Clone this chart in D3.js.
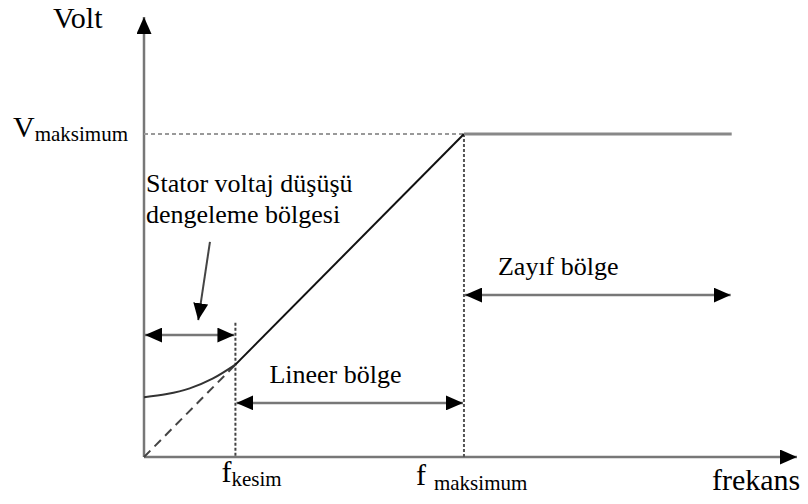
<!DOCTYPE html>
<html>
<head>
<meta charset="utf-8">
<script src="https://cdn.jsdelivr.net/npm/d3@7"></script>
<style>
  body { margin: 0; background: #fff; }
</style>
</head>
<body>
<div id="chart"></div>
<script>
// frequency / voltage values (arbitrary units)
let fKesim = 14
let fMax = 49
let fEnd = 90
let vMax = 73.4
let vKesim = 21

// low-frequency boost curve (stator voltage drop compensation)
let boostF = [0, 3.5, 7, 10.5, 14]
let boostV = [13.6, 14.3, 15.6, 17.8, 21]

// region arrows: [from f, to f, at V]
let regionArrows = [
  [0, fKesim, 27.7],
  [fKesim, fMax, 12.3],
  [fMax, fEnd, 36.8]
]
let regionLabels = ['', 'Lineer bölge', 'Zayıf bölge']

let serif = '"Liberation Serif", Tinos, "DejaVu Serif", serif'

let width = 808,
  height = 504

let svg = d3
  .select('#chart')
  .append('svg')
  .attr('width', width)
  .attr('height', height)
  .attr('font-family', serif)

let x = d3.scaleLinear().domain([0, 100]).range([144, 797])
let y = d3.scaleLinear().domain([0, 100]).range([457, 17])

let defs = svg.append('defs')
defs
  .append('marker')
  .attr('id', 'head')
  .attr('markerUnits', 'userSpaceOnUse')
  .attr('viewBox', '0 0 17 15')
  .attr('refX', 17)
  .attr('refY', 7.5)
  .attr('markerWidth', 17)
  .attr('markerHeight', 15)
  .attr('orient', 'auto-start-reverse')
  .append('path')
  .attr('d', 'M0,0 L17,7.5 L0,15 Z')
  .attr('fill', '#000')

// axes
svg
  .append('line')
  .attr('x1', x(0))
  .attr('y1', y(0))
  .attr('x2', x(0))
  .attr('y2', y(100))
  .attr('stroke', '#777')
  .attr('stroke-width', 2.5)
  .attr('marker-end', 'url(#head)')
svg
  .append('line')
  .attr('x1', x(0))
  .attr('y1', y(0))
  .attr('x2', x(100))
  .attr('y2', y(0))
  .attr('stroke', '#777')
  .attr('stroke-width', 2.5)
  .attr('marker-end', 'url(#head)')

// guide lines
svg
  .append('line')
  .attr('x1', x(0))
  .attr('y1', y(vMax))
  .attr('x2', x(fMax))
  .attr('y2', y(vMax))
  .attr('stroke', '#999')
  .attr('stroke-width', 2)
  .attr('stroke-dasharray', '4,3')
svg
  .append('line')
  .attr('x1', x(fMax))
  .attr('y1', y(vMax))
  .attr('x2', x(fMax))
  .attr('y2', y(0))
  .attr('stroke', '#555')
  .attr('stroke-width', 2)
  .attr('stroke-dasharray', '3,2')
svg
  .append('line')
  .attr('x1', x(fKesim))
  .attr('y1', y(30.5))
  .attr('x2', x(fKesim))
  .attr('y2', y(0))
  .attr('stroke', '#444')
  .attr('stroke-width', 2)
  .attr('stroke-dasharray', '3,2')

// dashed linear part below f kesim
svg
  .append('line')
  .attr('x1', x(0))
  .attr('y1', y(0))
  .attr('x2', x(fKesim))
  .attr('y2', y(vKesim))
  .attr('stroke', '#444')
  .attr('stroke-width', 2)
  .attr('stroke-dasharray', '9,6')

// boost curve
let boost = boostF.map(function(f, i) {
  return [f, boostV[i]]
})
svg
  .append('path')
  .datum(boost)
  .attr('fill', 'none')
  .attr('stroke', '#333')
  .attr('stroke-width', 2)
  .attr(
    'd',
    d3
      .line()
      .x(function(d) { return x(d[0]) })
      .y(function(d) { return y(d[1]) })
      .curve(d3.curveMonotoneX)
  )

// linear region + constant region
svg
  .append('line')
  .attr('x1', x(fKesim))
  .attr('y1', y(vKesim))
  .attr('x2', x(fMax))
  .attr('y2', y(vMax))
  .attr('stroke', '#111')
  .attr('stroke-width', 2)
svg
  .append('line')
  .attr('x1', x(fMax))
  .attr('y1', y(vMax))
  .attr('x2', x(fEnd))
  .attr('y2', y(vMax))
  .attr('stroke', '#888')
  .attr('stroke-width', 3)

// double arrows
svg
  .selectAll('.region')
  .data(regionArrows)
  .enter()
  .append('line')
  .attr('x1', function(d) { return x(d[0]) + 1 })
  .attr('x2', function(d) { return x(d[1]) - 1 })
  .attr('y1', function(d) { return y(d[2]) })
  .attr('y2', function(d) { return y(d[2]) })
  .attr('stroke', '#777')
  .attr('stroke-width', 2.5)
  .attr('marker-start', 'url(#head)')
  .attr('marker-end', 'url(#head)')

svg
  .selectAll('.regionLabel')
  .data(regionArrows)
  .enter()
  .append('text')
  .attr('x', function(d) { return x(d[0]) + 34 })
  .attr('y', function(d) { return y(d[2]) - 20 })
  .attr('font-size', 26)
  .text(function(d, i) { return regionLabels[i] })

// pointer arrow to the boost region
svg
  .append('line')
  .attr('x1', x(10.1))
  .attr('y1', y(48.9))
  .attr('x2', x(8.3))
  .attr('y2', y(31.1))
  .attr('stroke', '#444')
  .attr('stroke-width', 2)
  .attr('marker-end', 'url(#head)')

let stator = svg.append('text').attr('font-size', 26)
stator.append('tspan').attr('x', 146).attr('y', 192).text('Stator voltaj düşüşü')
stator.append('tspan').attr('x', 146).attr('y', 223).text('dengeleme bölgesi')

// axis labels
svg.append('text').attr('x', 53).attr('y', 28).attr('font-size', 30).text('Volt')
svg.append('text').attr('x', 712).attr('y', 490).attr('font-size', 30).text('frekans')

let vLab = svg.append('text').attr('x', 13).attr('y', 137).attr('font-size', 30)
vLab.append('tspan').text('V')
vLab.append('tspan').attr('font-size', 21).attr('dy', 4).text('maksimum')

let fk = svg.append('text').attr('x', x(fKesim) - 14).attr('y', 482).attr('font-size', 30)
fk.append('tspan').text('f')
fk.append('tspan').attr('font-size', 21).attr('dy', 4).text('kesim')

let fm = svg.append('text').attr('x', x(fMax) - 48).attr('y', 485).attr('font-size', 30)
fm.append('tspan').text('f')
fm.append('tspan').attr('font-size', 21).attr('dy', 5).attr('dx', 8).text('maksimum')
</script>
</body>
</html>
